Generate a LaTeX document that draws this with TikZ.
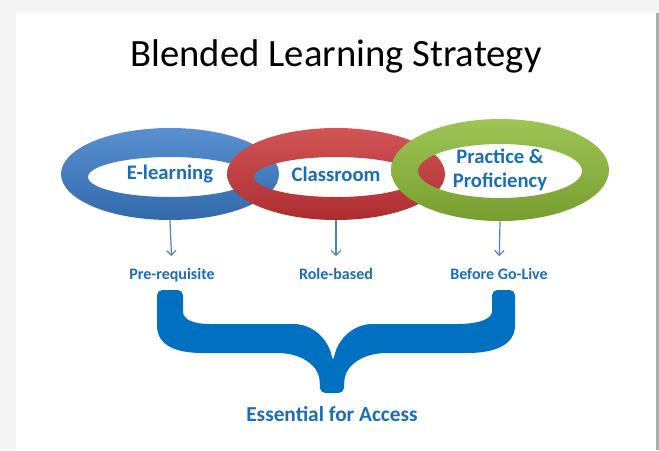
\documentclass[tikz,border=0pt]{standalone}
\usepackage{fontspec}
\setmainfont{Carlito}
\usetikzlibrary{shapes.geometric,positioning,arrows.meta}

\definecolor{ringblue}{RGB}{58,124,200}
\definecolor{ringred}{RGB}{202,54,56}
\definecolor{ringgreen}{RGB}{141,186,56}
\definecolor{textblue}{RGB}{27,110,182}
\definecolor{braceblue}{RGB}{0,112,192}
\definecolor{arrowblue}{RGB}{79,129,189}

\begin{document}
\begin{tikzpicture}[x=0.75pt,y=-0.75pt,
  ring/.style={ellipse,inner sep=0pt,minimum width=163.5pt,minimum height=#1,
    font=\fontsize{15.5}{17.5}\selectfont\bfseries,text=textblue,align=center},
  tag/.style={anchor=base,inner sep=1pt,text height=7pt,text=textblue,
    font=\fontsize{12}{14}\selectfont\bfseries},
  down/.style={-{Straight Barb[length=3.5pt,width=7pt,line width=0.9pt]},arrowblue,line width=0.9pt,shorten >=9pt}]
  \useasboundingbox (0,0) rectangle (659,450);
  % --- slide frame
  \fill[gray!8] (0,0) rectangle (659,450);
  \fill[white] (16,13) rectangle (656,450);
  \fill[gray!65] (656,13) rectangle (659,450);
  \node[font=\fontsize{29}{34}\selectfont] (title) at (336,56) {Blended Learning Strategy};
  % --- the three rings
  \foreach \cx/\cy/\ry/\iy/\iry/\col in {170/174/46/177/20/ringblue,336/174/46/177/20/ringred,500/170/51/171/27/ringgreen} {
    \shade[top color=\col!85!white,middle color=\col,bottom color=\col!85!black,even odd rule]
      (\cx,\cy) ellipse [x radius=109,y radius=\ry] (\cx,\iy) ellipse [x radius=82,y radius=\iry];
  }
  \node[ring=69pt] (elearn) at (170,174) {E-learning};
  \node[ring=69pt] (class) at (336,174) {Classroom};
  \node[ring=76.5pt] (practice) at (500,170) {Practice \&\\Proficiency};
  % --- what each one is for
  \node[tag] (pre) at (172,279) {Pre-requisite};
  \node[tag] (role) at (336,279) {Role-based};
  \node[tag] (golive) at (499,279) {Before Go-Live};
  \draw[down] (elearn.south) -- (pre.north);
  \draw[down] (class.south) -- (role.north);
  \draw[down] (practice.south) -- (golive.north);
  % --- brace
  \fill[braceblue,rounded corners=4pt] (157,320) -- (157,290) -- (183,290) -- (183,306)
    .. controls (183,320) and (194,324) .. (215,324) -- (288,324)
    .. controls (312,324) and (328,338) .. (333,362)
    .. controls (338,338) and (354,324) .. (378,324) -- (452,324)
    .. controls (476,324) and (492,320) .. (492,306) -- (492,290) -- (515,290) -- (515,320)
    .. controls (515,342) and (500,353) .. (462,353) -- (392,353)
    .. controls (362,353) and (346,366) .. (344,384) -- (344,393) -- (320,393) -- (320,384)
    .. controls (318,366) and (302,353) .. (272,353) -- (208,353)
    .. controls (170,353) and (157,342) .. (157,320) -- cycle;
  \node[anchor=base,text=textblue,font=\fontsize{16}{18}\selectfont\bfseries] (access) at (332,421) {Essential for Access};
\end{tikzpicture}
\end{document}
